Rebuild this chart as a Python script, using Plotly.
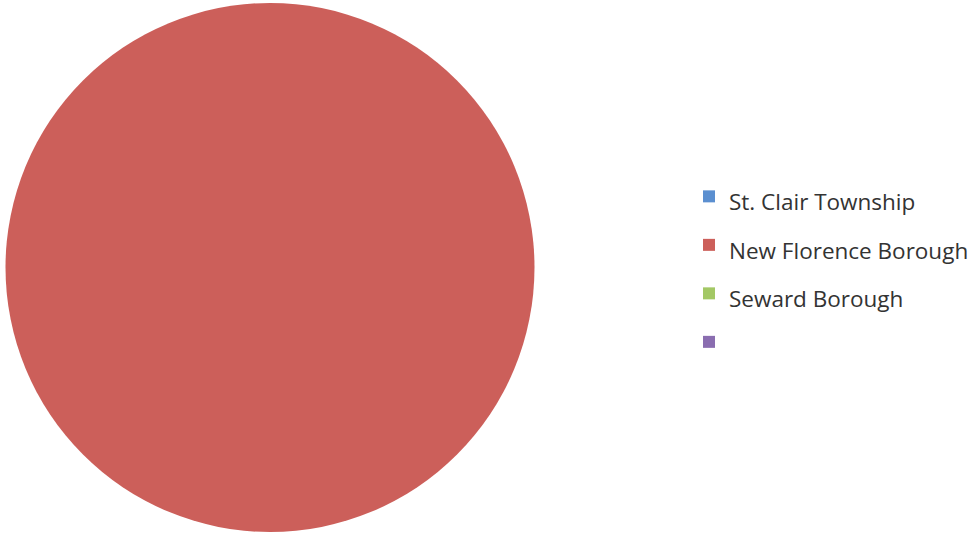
import plotly.graph_objects as go

labels = ["St. Clair Township", "New Florence Borough", "Seward Borough", "\u00a0"]
values = [0, 100, 0, 0]
colors = ["#5b8fd0", "#cc5f5a", "#a3c865", "#8a6db0"]

legend_text = [f"<span style='font-size:22.5px'>{lab}</span>" for lab in labels]

fig = go.Figure(go.Pie(
    labels=legend_text, values=values,
    marker=dict(colors=colors, line=dict(width=0)),
    textinfo="none", sort=False, direction="clockwise",
    hoverinfo="value",
    domain=dict(x=[5 / 974, 535 / 974], y=[3 / 535, 532 / 535]),
))

fig.update_layout(
    width=974, height=535,
    margin=dict(l=0, r=0, t=0, b=0),
    paper_bgcolor="white", plot_bgcolor="white",
    legend=dict(
        x=689 / 974, xanchor="left", y=0.497, yanchor="middle",
        font=dict(family="Open Sans", size=35, color="#333333"),
        bgcolor="rgba(0,0,0,0)",
    ),
)
fig.write_html(
    "out.html",
    config={"displayModeBar": False},
    post_script="document.body.style.margin='0px';",
)
